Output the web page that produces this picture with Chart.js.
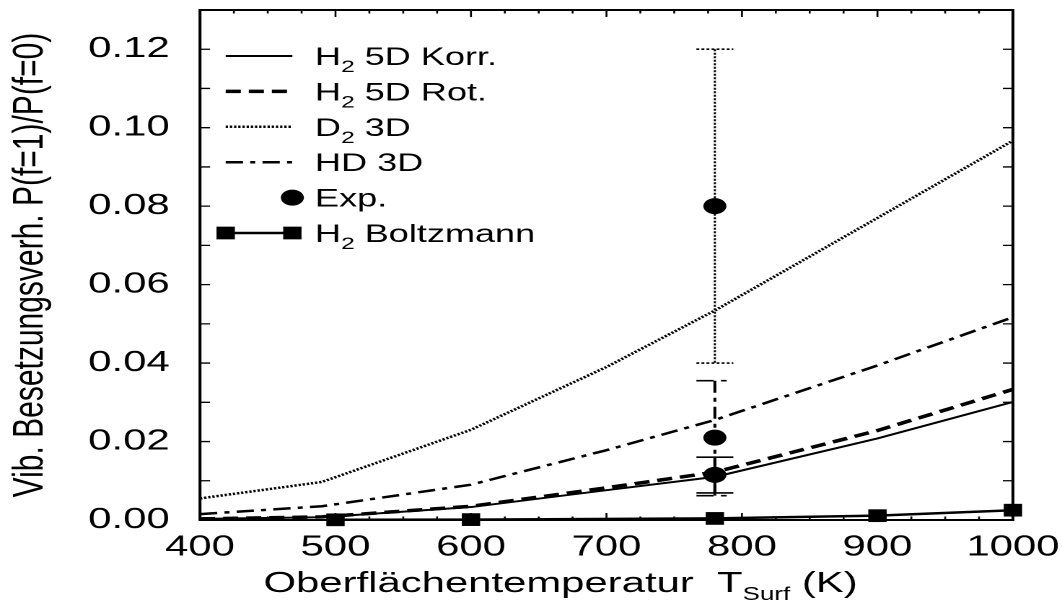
<!DOCTYPE html>
<html>
<head>
<meta charset="utf-8">
<title>Vib. Besetzungsverhältnis</title>
<script src="https://cdn.jsdelivr.net/npm/chart.js@4.4.0/dist/chart.umd.min.js"></script>
<style>
  html, body { margin: 0; padding: 0; background: #fff; overflow: hidden; }
</style>
</head>
<body>
<!-- the original figure is stretched horizontally, so the canvas is drawn narrow and widened by CSS -->
<canvas id="chart" width="736" height="608" style="width:1062px;height:608px;"></canvas>
<script>
const temps = [400, 490, 600, 700, 780, 900, 1000];
const h2Korr = [0.0003, 0.0007, 0.0033, 0.0076, 0.0110, 0.0208, 0.0301];
const h2Rot = [0.0003, 0.0008, 0.0035, 0.0082, 0.0122, 0.0228, 0.0333];
const d2 = [0.0055, 0.0097, 0.0230, 0.0390, 0.0534, 0.0770, 0.0967];
const hd = [0.0015, 0.0035, 0.0090, 0.0178, 0.0255, 0.0394, 0.0517];

const boltzTemps = [500, 600, 780, 900, 1000];
const h2Boltz = [0.00005, 0.0001, 0.0004, 0.0011, 0.0025];

const expTemps = [780, 780, 780];
const expValues = [0.080, 0.021, 0.0115];
const expLow = [0.040, 0.0062, 0.0069];
const expHigh = [0.120, 0.0355, 0.016];

// one line style per error bar (D2 dotted, HD dash-dot, H2 solid)
const errorBarDash = [[2, 1.5], [12, 5, 4, 5], []];
const errorBarWidth = [1.5, 2, 2];

const FONT = "'Liberation Sans', Arial, Helvetica, sans-serif";
Chart.defaults.font.family = FONT;
Chart.defaults.color = '#000';

function toPoints(xs, ys) {
  return xs.map((x, i) => ({ x: x, y: ys[i] }));
}

// draws text like 'H_{2} 5D' with the braces part as subscript
function drawRich(ctx, text, x, y, size, subSize, subDrop) {
  const parts = text.split(/_\{([^}]*)\}/);
  parts.forEach((p, i) => {
    const sub = i % 2 === 1;
    ctx.font = (sub ? subSize : size) + 'px ' + FONT;
    ctx.fillText(p, x, sub ? y + subDrop : y);
    x += ctx.measureText(p).width;
  });
}

const errorBars = {
  id: 'errorBars',
  beforeDatasetsDraw(chart) {
    const { ctx, scales: { x, y } } = chart;
    const half = 12.8;
    expTemps.forEach((t, i) => {
      const px = x.getPixelForValue(t);
      const lo = y.getPixelForValue(expLow[i]);
      const hi = y.getPixelForValue(expHigh[i]);
      ctx.save();
      ctx.strokeStyle = '#000';
      ctx.lineWidth = errorBarWidth[i];
      ctx.setLineDash(errorBarDash[i]);
      ctx.beginPath();
      ctx.moveTo(px, hi);
      ctx.lineTo(px, lo);
      ctx.stroke();
      ctx.lineWidth = 1.6;
      [lo, hi].forEach(py => {
        ctx.beginPath();
        ctx.moveTo(px - half, py);
        ctx.lineTo(px + half, py);
        ctx.stroke();
      });
      ctx.restore();
    });
  }
};

const frame = {
  id: 'frame',
  afterDatasetsDraw(chart) {
    const { ctx, chartArea: a, scales: { x, y } } = chart;
    ctx.save();
    ctx.strokeStyle = '#000';
    ctx.lineWidth = 2;
    ctx.strokeRect(a.left, a.top, a.right - a.left, a.bottom - a.top);
    ctx.lineWidth = 1.3;
    ctx.beginPath();
    for (let t = x.min; t <= x.max; t += 25) {
      const px = x.getPixelForValue(t);
      const len = t % 100 === 0 ? 7 : 3.5;
      ctx.moveTo(px, a.bottom);
      ctx.lineTo(px, a.bottom - len);
      ctx.moveTo(px, a.top);
      ctx.lineTo(px, a.top + len);
    }
    y.ticks.forEach(tk => {
      const py = y.getPixelForValue(tk.value);
      ctx.moveTo(a.left, py);
      ctx.lineTo(a.left + 7, py);
      ctx.moveTo(a.right, py);
      ctx.lineTo(a.right - 7, py);
    });
    ctx.stroke();
    ctx.restore();
  }
};

const innerLegend = {
  id: 'innerLegend',
  afterDraw(chart) {
    const ctx = chart.ctx;
    const x0 = 156.4, x1 = 202.6, tx = 218.3;
    chart.data.datasets.forEach((ds, i) => {
      const y = 56 + i * 35.4;
      ctx.save();
      ctx.strokeStyle = '#000';
      ctx.fillStyle = '#000';
      if (ds.showLine !== false) {
        ctx.lineWidth = ds.borderWidth;
        ctx.setLineDash(ds.borderDash || []);
        ctx.beginPath();
        ctx.moveTo(x0, y);
        ctx.lineTo(x1, y);
        ctx.stroke();
        ctx.setLineDash([]);
      }
      if (ds.pointRadius > 0) {
        const marker = { pointStyle: ds.pointStyle, radius: ds.pointRadius, borderWidth: 0, rotation: 0 };
        if (ds.showLine !== false) Chart.helpers.drawPoint(ctx, marker, x0, y);
        Chart.helpers.drawPoint(ctx, marker, x1, y);
      }
      ctx.textBaseline = 'alphabetic';
      drawRich(ctx, ds.label, tx, y + 9, 25, 17, 7);
      ctx.restore();
    });
  }
};

const xTitle = {
  id: 'xTitle',
  afterDraw(chart) {
    const ctx = chart.ctx;
    ctx.save();
    ctx.fillStyle = '#000';
    ctx.textBaseline = 'alphabetic';
    drawRich(ctx, 'Oberflächentemperatur  T_{Surf} (K)', chart.chartArea.left + 44, 592, 29, 18, 8);
    ctx.restore();
  }
};

new Chart(document.getElementById('chart'), {
  type: 'line',
  data: {
    datasets: [
      {
        label: 'H_{2} 5D Korr.',
        data: toPoints(temps, h2Korr),
        borderColor: '#000',
        borderWidth: 2,
        pointRadius: 0
      },
      {
        label: 'H_{2} 5D Rot.',
        data: toPoints(temps, h2Rot),
        borderColor: '#000',
        borderWidth: 3.5,
        borderDash: [10.5, 5.5],
        pointRadius: 0
      },
      {
        label: 'D_{2} 3D',
        data: toPoints(temps, d2),
        borderColor: '#000',
        borderWidth: 2.5,
        borderDash: [1.6, 1.3],
        pointRadius: 0
      },
      {
        label: 'HD 3D',
        data: toPoints(temps, hd),
        borderColor: '#000',
        borderWidth: 2.5,
        borderDash: [12, 5, 3.5, 5],
        pointRadius: 0
      },
      {
        label: 'Exp.',
        data: toPoints(expTemps, expValues),
        showLine: false,
        pointStyle: 'circle',
        pointRadius: 8,
        pointBackgroundColor: '#000',
        pointBorderWidth: 0,
        clip: false
      },
      {
        label: 'H_{2} Boltzmann',
        data: toPoints(boltzTemps, h2Boltz),
        borderColor: '#000',
        borderWidth: 2.5,
        pointStyle: 'rect',
        pointRadius: 9,
        pointBackgroundColor: '#000',
        pointBorderWidth: 0,
        clip: false
      }
    ]
  },
  options: {
    responsive: false,
    devicePixelRatio: 2,
    animation: false,
    layout: { padding: { top: 10, right: 34, left: 0, bottom: 0 } },
    plugins: {
      legend: { display: false },
      tooltip: { enabled: false }
    },
    scales: {
      x: {
        type: 'linear',
        min: 400,
        max: 1000,
        grid: { display: false, drawTicks: false },
        border: { display: false },
        ticks: { stepSize: 100, padding: 10, maxRotation: 0, font: { size: 29 }, callback: v => String(v) },
        afterFit: s => { s.height = 88; s.paddingLeft = 0; s.paddingRight = 0; }
      },
      y: {
        min: 0,
        max: 0.13,
        grid: { display: false, drawTicks: false },
        border: { display: false },
        ticks: {
          stepSize: 0.01,
          padding: 21,
          font: { size: 29 },
          callback: v => (Math.round(v * 100) % 2 === 0 && v < 0.125 ? v.toFixed(2) : '')
        },
        title: {
          display: true,
          text: 'Vib. Besetzungsverh. P(f=1)/P(f=0)',
          font: { size: 30 },
          padding: { top: 3, bottom: 0 }
        },
        afterFit: s => { s.width = 138.6; s.paddingTop = 0; s.paddingBottom = 0; }
      }
    }
  },
  plugins: [errorBars, frame, innerLegend, xTitle]
});
</script>
</body>
</html>
